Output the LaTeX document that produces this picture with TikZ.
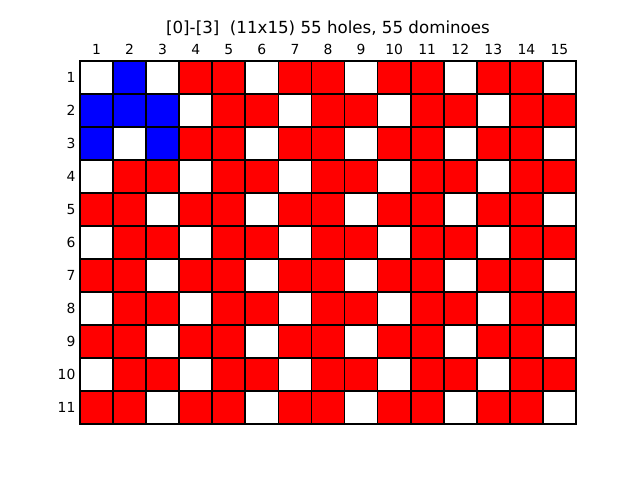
\documentclass[tikz,border=0pt]{standalone}
\usepackage{fontspec}
\setmainfont{DejaVu Sans}
\colorlet{cw}{white}
\colorlet{cb}{blue}
\colorlet{cr}{red}
\begin{document}
\begin{tikzpicture}[x=1pt,y=-1pt,
  cell/.style={minimum width=33.0667pt,minimum height=33pt,inner sep=0pt,outer sep=0pt},
  border/.style={draw=black,line width=1.7pt},
  tick/.style={font=\fontsize{13.9}{16}\selectfont,inner sep=0pt},
  ttl/.style={font=\fontsize{16.67}{20}\selectfont,inner sep=0pt}]
\useasboundingbox (0,0) rectangle (640,480);
\fill[white] (0,0) rectangle (640,480);
\node[ttl,anchor=base] (title) at (328,33.9) {[0]-[3]\ \ (11x15) 55 holes, 55 dominoes};
\foreach \row [count=\r] in {
 {cw,cb,cw,cr,cr,cw,cr,cr,cw,cr,cr,cw,cr,cr,cw},
 {cb,cb,cb,cw,cr,cr,cw,cr,cr,cw,cr,cr,cw,cr,cr},
 {cb,cw,cb,cr,cr,cw,cr,cr,cw,cr,cr,cw,cr,cr,cw},
 {cw,cr,cr,cw,cr,cr,cw,cr,cr,cw,cr,cr,cw,cr,cr},
 {cr,cr,cw,cr,cr,cw,cr,cr,cw,cr,cr,cw,cr,cr,cw},
 {cw,cr,cr,cw,cr,cr,cw,cr,cr,cw,cr,cr,cw,cr,cr},
 {cr,cr,cw,cr,cr,cw,cr,cr,cw,cr,cr,cw,cr,cr,cw},
 {cw,cr,cr,cw,cr,cr,cw,cr,cr,cw,cr,cr,cw,cr,cr},
 {cr,cr,cw,cr,cr,cw,cr,cr,cw,cr,cr,cw,cr,cr,cw},
 {cw,cr,cr,cw,cr,cr,cw,cr,cr,cw,cr,cr,cw,cr,cr},
 {cr,cr,cw,cr,cr,cw,cr,cr,cw,cr,cr,cw,cr,cr,cw}} {
  \foreach \col [count=\c] in \row {
    \node[cell,fill=\col] (c\r-\c) at ({80+(\c-0.5)*33.0667},{61+(\r-0.5)*33}) {};
  }
  \node[tick,anchor=east] (rl\r) at (75.6,{61+(\r-0.5)*33}) {\r};
}
\foreach \r in {1,...,11} {
  \foreach \c in {1,...,15} {
    \draw[border] (c\r-\c.north west) rectangle (c\r-\c.south east);
  }
}
\foreach \c in {1,...,15} {
  \node[tick,anchor=base] (cl\c) at ({80+(\c-0.5)*33.0667},54.3) {\c};
}
\end{tikzpicture}
\end{document}
